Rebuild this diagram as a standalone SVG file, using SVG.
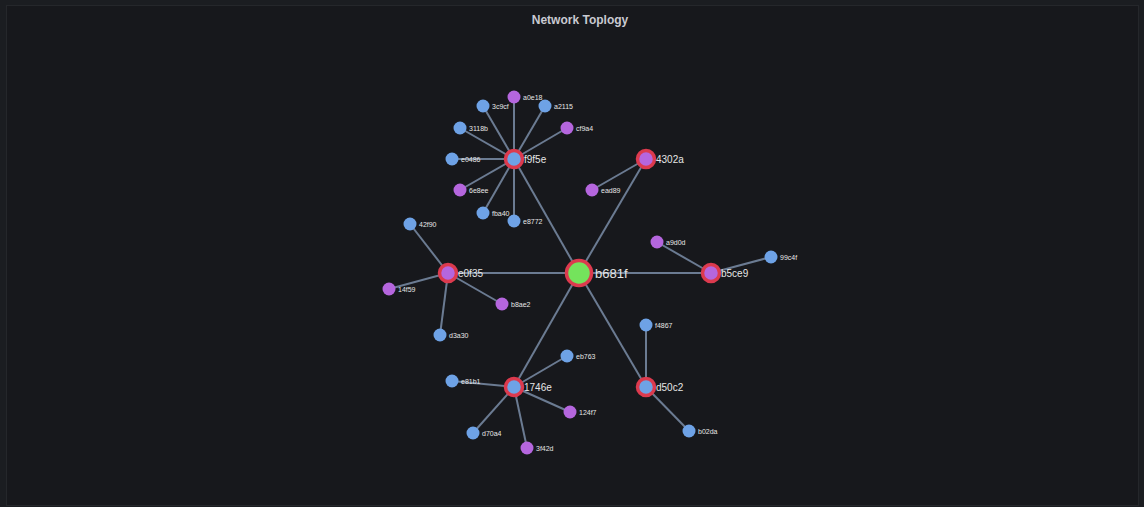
<svg xmlns="http://www.w3.org/2000/svg" width="1144" height="507" viewBox="0 0 1144 507">
<style>
.e{stroke:#6b7b92;stroke-width:2;fill:none}
.hub{stroke:#dc3a4e;stroke-width:3.5}
.b{fill:#6ea2e6}
.p{fill:#b566de}
.g{fill:#74e35c}
.lf{font-family:"Liberation Sans",Arial,sans-serif;font-size:7px;fill:#e6e6e6}
.lh{font-family:"Liberation Sans",Arial,sans-serif;font-size:10px;fill:#e6e6e6}
.lc{font-family:"Liberation Sans",Arial,sans-serif;font-size:13px;fill:#e6e6e6}
.t{font-family:"Liberation Sans",Arial,sans-serif;font-size:12px;font-weight:bold;fill:#c9cad2}
</style>
<rect width="1144" height="507" fill="#1b1d21"/>
<rect x="6.5" y="5.5" width="1132" height="500" fill="#17181c" stroke="#25272b" stroke-width="1"/>
<text class="t" x="580" y="24" text-anchor="middle">Network Toplogy</text>
<g id="connectors">
<line class="e" x1="579" y1="273" x2="514" y2="159"/>
<line class="e" x1="579" y1="273" x2="646" y2="159"/>
<line class="e" x1="579" y1="273" x2="448" y2="273"/>
<line class="e" x1="579" y1="273" x2="711" y2="273"/>
<line class="e" x1="579" y1="273" x2="514" y2="387"/>
<line class="e" x1="579" y1="273" x2="646" y2="387"/>
<line class="e" x1="514" y1="159" x2="514" y2="97"/>
<line class="e" x1="514" y1="159" x2="545" y2="106"/>
<line class="e" x1="514" y1="159" x2="567" y2="128"/>
<line class="e" x1="514" y1="159" x2="483" y2="106"/>
<line class="e" x1="514" y1="159" x2="460" y2="128"/>
<line class="e" x1="514" y1="159" x2="452" y2="159"/>
<line class="e" x1="514" y1="159" x2="460" y2="190"/>
<line class="e" x1="514" y1="159" x2="483" y2="213"/>
<line class="e" x1="514" y1="159" x2="514" y2="221"/>
<line class="e" x1="646" y1="159" x2="592" y2="190"/>
<line class="e" x1="448" y1="273" x2="410" y2="224"/>
<line class="e" x1="448" y1="273" x2="389" y2="289"/>
<line class="e" x1="448" y1="273" x2="502" y2="304"/>
<line class="e" x1="448" y1="273" x2="440" y2="335"/>
<line class="e" x1="711" y1="273" x2="657" y2="242"/>
<line class="e" x1="711" y1="273" x2="771" y2="257"/>
<line class="e" x1="514" y1="387" x2="567" y2="356"/>
<line class="e" x1="514" y1="387" x2="452" y2="381"/>
<line class="e" x1="514" y1="387" x2="570" y2="412"/>
<line class="e" x1="514" y1="387" x2="473" y2="433"/>
<line class="e" x1="514" y1="387" x2="527" y2="448"/>
<line class="e" x1="646" y1="387" x2="646" y2="325"/>
<line class="e" x1="646" y1="387" x2="689" y2="431"/>
</g>
<g id="n-b681f"><circle class="g hub" cx="579" cy="273" r="12.5"/><text class="lc" x="595" y="278">b681f</text></g>
<g id="n-f9f5e"><circle class="b hub" cx="514" cy="159" r="8.5"/><text class="lh" x="524" y="162.5">f9f5e</text></g>
<g id="n-4302a"><circle class="p hub" cx="646" cy="159" r="8.5"/><text class="lh" x="656" y="162.5">4302a</text></g>
<g id="n-e0f35"><circle class="p hub" cx="448" cy="273" r="8.5"/><text class="lh" x="458" y="276.5">e0f35</text></g>
<g id="n-b5ce9"><circle class="p hub" cx="711" cy="273" r="8.5"/><text class="lh" x="721" y="276.5">b5ce9</text></g>
<g id="n-1746e"><circle class="b hub" cx="514" cy="387" r="8.5"/><text class="lh" x="524" y="390.5">1746e</text></g>
<g id="n-d50c2"><circle class="b hub" cx="646" cy="387" r="8.5"/><text class="lh" x="656" y="390.5">d50c2</text></g>
<g id="n-a0e18"><circle class="p" cx="514" cy="97" r="6.5"/><text class="lf" x="523" y="99.5">a0e18</text></g>
<g id="n-a2115"><circle class="b" cx="545" cy="106" r="6.5"/><text class="lf" x="554" y="108.5">a2115</text></g>
<g id="n-cf9a4"><circle class="p" cx="567" cy="128" r="6.5"/><text class="lf" x="576" y="130.5">cf9a4</text></g>
<g id="n-3c9cf"><circle class="b" cx="483" cy="106" r="6.5"/><text class="lf" x="492" y="108.5">3c9cf</text></g>
<g id="n-3118b"><circle class="b" cx="460" cy="128" r="6.5"/><text class="lf" x="469" y="130.5">3118b</text></g>
<g id="n-e0486"><circle class="b" cx="452" cy="159" r="6.5"/><text class="lf" x="461" y="161.5">e0486</text></g>
<g id="n-6e8ee"><circle class="p" cx="460" cy="190" r="6.5"/><text class="lf" x="469" y="192.5">6e8ee</text></g>
<g id="n-fba40"><circle class="b" cx="483" cy="213" r="6.5"/><text class="lf" x="492" y="215.5">fba40</text></g>
<g id="n-e8772"><circle class="b" cx="514" cy="221" r="6.5"/><text class="lf" x="523" y="223.5">e8772</text></g>
<g id="n-ead89"><circle class="p" cx="592" cy="190" r="6.5"/><text class="lf" x="601" y="192.5">ead89</text></g>
<g id="n-42f90"><circle class="b" cx="410" cy="224" r="6.5"/><text class="lf" x="419" y="226.5">42f90</text></g>
<g id="n-14f59"><circle class="p" cx="389" cy="289" r="6.5"/><text class="lf" x="398" y="291.5">14f59</text></g>
<g id="n-b8ae2"><circle class="p" cx="502" cy="304" r="6.5"/><text class="lf" x="511" y="306.5">b8ae2</text></g>
<g id="n-d3a30"><circle class="b" cx="440" cy="335" r="6.5"/><text class="lf" x="449" y="337.5">d3a30</text></g>
<g id="n-a9d0d"><circle class="p" cx="657" cy="242" r="6.5"/><text class="lf" x="666" y="244.5">a9d0d</text></g>
<g id="n-99c4f"><circle class="b" cx="771" cy="257" r="6.5"/><text class="lf" x="780" y="259.5">99c4f</text></g>
<g id="n-eb763"><circle class="b" cx="567" cy="356" r="6.5"/><text class="lf" x="576" y="358.5">eb763</text></g>
<g id="n-e81b1"><circle class="b" cx="452" cy="381" r="6.5"/><text class="lf" x="461" y="383.5">e81b1</text></g>
<g id="n-124f7"><circle class="p" cx="570" cy="412" r="6.5"/><text class="lf" x="579" y="414.5">124f7</text></g>
<g id="n-d70a4"><circle class="b" cx="473" cy="433" r="6.5"/><text class="lf" x="482" y="435.5">d70a4</text></g>
<g id="n-3f42d"><circle class="p" cx="527" cy="448" r="6.5"/><text class="lf" x="536" y="450.5">3f42d</text></g>
<g id="n-f4867"><circle class="b" cx="646" cy="325" r="6.5"/><text class="lf" x="655" y="327.5">f4867</text></g>
<g id="n-b02da"><circle class="b" cx="689" cy="431" r="6.5"/><text class="lf" x="698" y="433.5">b02da</text></g>
</svg>
